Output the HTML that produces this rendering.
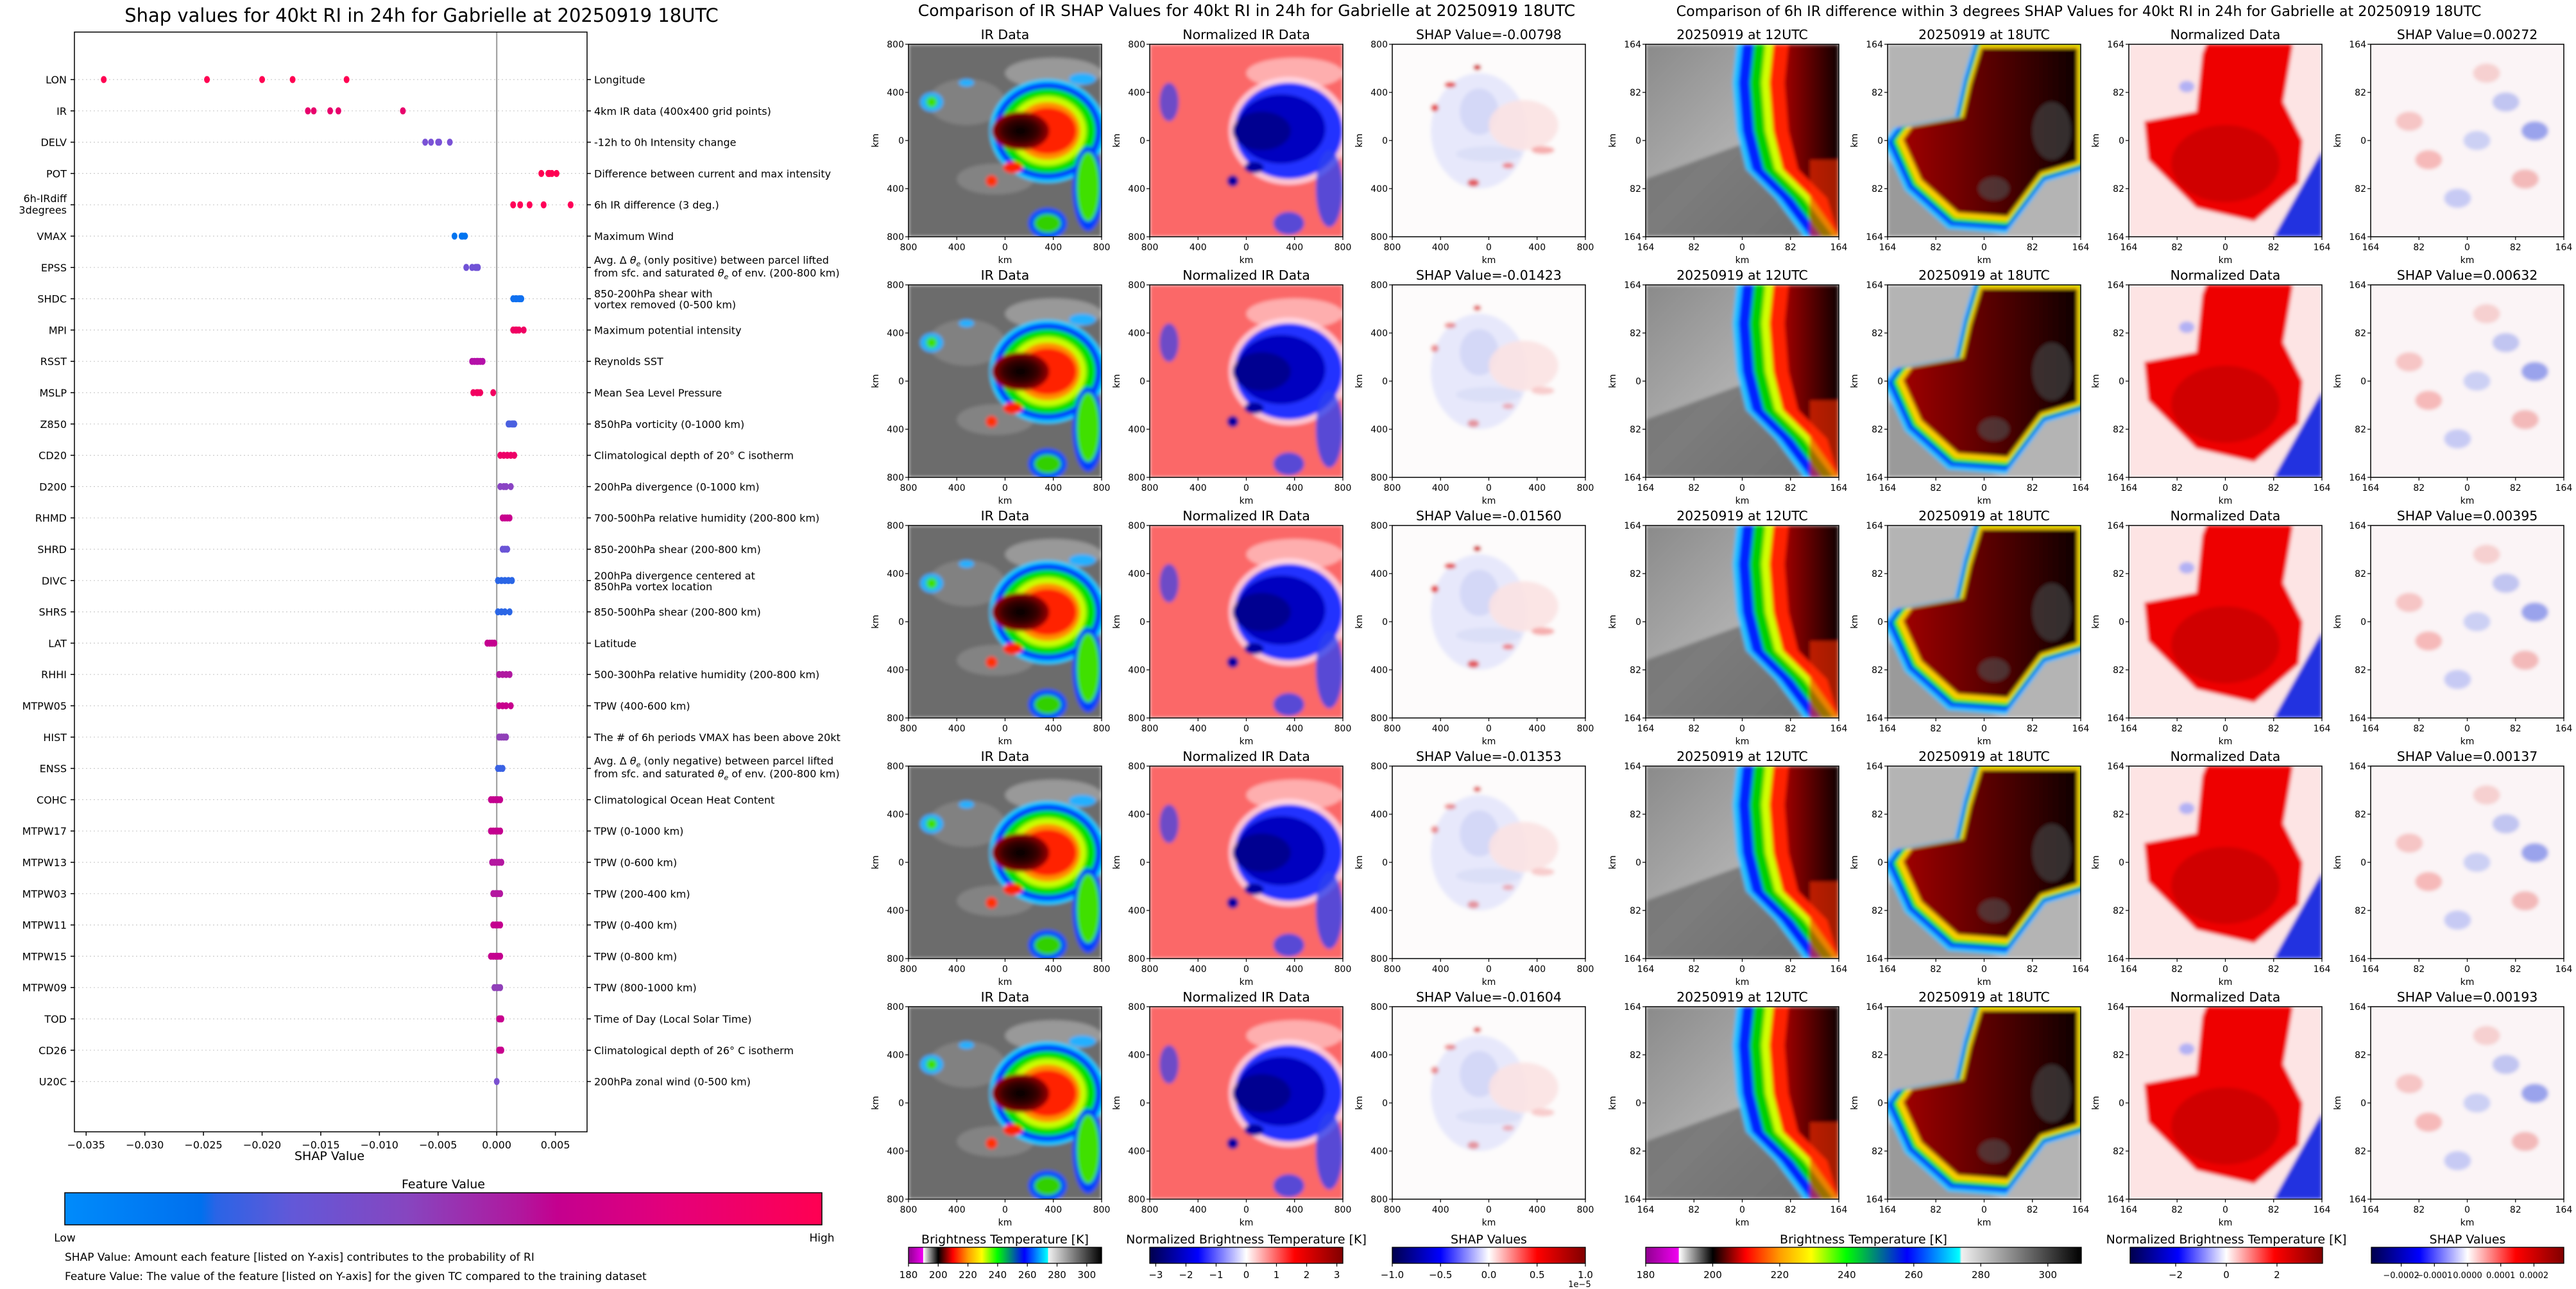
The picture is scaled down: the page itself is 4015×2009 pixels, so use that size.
<!DOCTYPE html>
<html><head><meta charset="utf-8">
<style>
html,body{margin:0;padding:0;background:#fff;}
svg{display:block;font-family:"DejaVu Sans","Liberation Sans",sans-serif;}
</style></head>
<body>
<svg id="root" xmlns="http://www.w3.org/2000/svg" width="4015" height="2009" viewBox="0 0 4015 2009">
<defs>
  <linearGradient id="gFeat" x1="0" x2="1" y1="0" y2="0">
    <stop offset="0" stop-color="#008bfb"/><stop offset="0.18" stop-color="#0070ee"/>
    <stop offset="0.2" stop-color="#2a64e6"/><stop offset="0.3" stop-color="#6258d8"/>
    <stop offset="0.45" stop-color="#8646c0"/><stop offset="0.6" stop-color="#b0189e"/>
    <stop offset="0.65" stop-color="#c4008f"/><stop offset="0.8" stop-color="#e4007a"/>
    <stop offset="1" stop-color="#ff0052"/>
  </linearGradient>
  <linearGradient id="gBT" x1="0" x2="1" y1="0" y2="0">
    <stop offset="0" stop-color="#900090"/><stop offset="0.075" stop-color="#f000f0"/>
    <stop offset="0.077" stop-color="#ffffff"/><stop offset="0.154" stop-color="#000000"/>
    <stop offset="0.23" stop-color="#ff0000"/><stop offset="0.31" stop-color="#ffa000"/>
    <stop offset="0.38" stop-color="#ffff00"/><stop offset="0.46" stop-color="#00ff00"/>
    <stop offset="0.6" stop-color="#0000ff"/><stop offset="0.72" stop-color="#00ffff"/>
    <stop offset="0.725" stop-color="#f0f0f0"/><stop offset="1" stop-color="#000000"/>
  </linearGradient>
  <linearGradient id="gSeis" x1="0" x2="1" y1="0" y2="0">
    <stop offset="0" stop-color="#00004c"/><stop offset="0.25" stop-color="#0000ff"/>
    <stop offset="0.5" stop-color="#ffffff"/><stop offset="0.75" stop-color="#ff0000"/>
    <stop offset="1" stop-color="#800000"/>
  </linearGradient>
  <radialGradient id="gCore" cx="0.5" cy="0.5" r="0.5">
    <stop offset="0" stop-color="#000"/><stop offset="0.6" stop-color="#3a0000"/><stop offset="1" stop-color="#a00000"/>
  </radialGradient>
  <linearGradient id="gDark" x1="0" x2="1" y1="0" y2="0">
    <stop offset="0" stop-color="#a00000"/><stop offset="1" stop-color="#100000"/>
  </linearGradient>
  <linearGradient id="gGrayL" x1="0" x2="1" y1="0" y2="1">
    <stop offset="0" stop-color="#8a8a8a"/><stop offset="0.5" stop-color="#b0b0b0"/><stop offset="1" stop-color="#6a6a6a"/>
  </linearGradient>
  <filter id="soft" x="0" y="0" width="1" height="1"><feGaussianBlur stdDeviation="3"/></filter>
</defs>
</svg>
<script>
// ---------- SHAP beeswarm data ----------
const features = ["LON","IR","DELV","POT","6h-IRdiff|3degrees","VMAX","EPSS","SHDC","MPI","RSST","MSLP","Z850","CD20","D200","RHMD","SHRD","DIVC","SHRS","LAT","RHHI","MTPW05","HIST","ENSS","COHC","MTPW17","MTPW13","MTPW03","MTPW11","MTPW15","MTPW09","TOD","CD26","U20C"];
const descriptions = ["Longitude","4km IR data (400x400 grid points)","-12h to 0h Intensity change","Difference between current and max intensity","6h IR difference (3 deg.)","Maximum Wind","EPSS_LABEL","850-200hPa shear with|vortex removed (0-500 km)","Maximum potential intensity","Reynolds SST","Mean Sea Level Pressure","850hPa vorticity (0-1000 km)","Climatological depth of 20° C isotherm","200hPa divergence (0-1000 km)","700-500hPa relative humidity (200-800 km)","850-200hPa shear (200-800 km)","200hPa divergence centered at|850hPa vortex location","850-500hPa shear (200-800 km)","Latitude","500-300hPa relative humidity (200-800 km)","TPW (400-600 km)","The # of 6h periods VMAX has been above 20kt","ENSS_LABEL","Climatological Ocean Heat Content","TPW (0-1000 km)","TPW (0-600 km)","TPW (200-400 km)","TPW (0-400 km)","TPW (0-800 km)","TPW (800-1000 km)","Time of Day (Local Solar Time)","Climatological depth of 26° C isotherm","200hPa zonal wind (0-500 km)"];
const shapValues = [
 [-0.0335,-0.0247,-0.0200,-0.0174,-0.0128],
 [-0.0161,-0.0156,-0.0142,-0.0135,-0.0080],
 [-0.0061,-0.0056,-0.0050,-0.0049,-0.0040],
 [0.0038,0.0044,0.0045,0.0047,0.0051],
 [0.0014,0.0020,0.0028,0.0040,0.0063],
 [-0.0036,-0.0030,-0.0029,-0.0027],
 [-0.0026,-0.0021,-0.0018,-0.0017,-0.0016],
 [0.0014,0.0016,0.0017,0.0019,0.0020,0.0021],
 [0.0014,0.0016,0.0017,0.0019,0.0023],
 [-0.0021,-0.0019,-0.0017,-0.0016,-0.0014,-0.0012],
 [-0.0020,-0.0017,-0.0016,-0.0014,-0.0003],
 [0.0010,0.0011,0.0013,0.0014,0.0015],
 [0.0003,0.0006,0.0009,0.0012,0.0015],
 [0.0003,0.0006,0.0008,0.0012],
 [0.0005,0.0007,0.0009,0.0011],
 [0.0005,0.0007,0.0009],
 [0.0001,0.0004,0.0007,0.0010,0.0013],
 [0.0001,0.0004,0.0007,0.0011],
 [-0.0008,-0.0006,-0.0004,-0.0002],
 [0.0002,0.0005,0.0008,0.0011],
 [0.0002,0.0005,0.0008,0.0012],
 [0.0002,0.0004,0.0006,0.0008],
 [0.0001,0.0003,0.0005],
 [-0.0005,-0.0003,-0.0001,0.0001,0.0003],
 [-0.0005,-0.0003,-0.0001,0.0001,0.0003],
 [-0.0004,-0.0002,0.0000,0.0002,0.0004],
 [-0.0003,-0.0001,0.0001,0.0003],
 [-0.0003,-0.0001,0.0001,0.0003],
 [-0.0005,-0.0003,-0.0001,0.0001,0.0003],
 [-0.0002,0.0000,0.0001,0.0003],
 [0.0002,0.0003,0.0004],
 [0.0002,0.0003,0.0004],
 [0.0000]
];
const featureColors = ["#ff0052","#e8006c","#7a52d6","#ff0052","#ff0058","#0074f0","#7052d6","#1070f0","#f00062","#b410a8","#f20060","#4a60e0","#ee0068","#8a44c4","#c8008e","#6a54d6","#2a66e6","#2a66e6","#c4008f","#b018a0","#c8008e","#9040b8","#3a62e4","#c4008f","#c4008f","#b418a0","#b418a0","#c4008f","#c4008f","#9040b8","#c8008e","#c8008e","#7a50d0"];
const xTicks = [-0.035,-0.030,-0.025,-0.020,-0.015,-0.010,-0.005,0.000,0.005];

// ---------- image panel data ----------
const irShap = ["-0.00798","-0.01423","-0.01560","-0.01353","-0.01604"];
const diffShap = ["0.00272","0.00632","0.00395","0.00137","0.00193"];
const btTicks = [180,200,220,240,260,280,300];
const normTicksMid = [-3,-2,-1,0,1,2,3];
const shapTicksMid = [-1.0,-0.5,0.0,0.5,1.0];
const normTicksRight = [-2,0,2];
const shapTicksRight = [-0.0002,-0.0001,0.0000,0.0001,0.0002];
const kmTicksMid = ["800","400","0","400","800"];
const kmTicksRight = ["164","82","0","82","164"];

const NS="http://www.w3.org/2000/svg";
const root=document.getElementById('root');
function mk(tag,attrs,parent,txt){const e=document.createElementNS(NS,tag);for(const k in attrs)e.setAttribute(k,attrs[k]);if(txt!==undefined)e.textContent=txt;(parent||root).appendChild(e);return e;}

// ================= LEFT: beeswarm =================
const AX={l:116,r:915,t:50,b:1764};
const xMin=-0.0360, xMax=0.0077;
function xs(v){return AX.l+(v-xMin)/(xMax-xMin)*(AX.r-AX.l);}
const rowY0=124, rowStep=48.8;
function ys(i){return rowY0+i*rowStep;}

const left=mk('g',{});


const lt=mk('text',{x:657,y:34,'text-anchor':'middle','font-size':29},left,'Shap values for 40kt RI in 24h for Gabrielle at 20250919 18UTC');



features.forEach((f,i)=>{
  const y=ys(i);
  const gl=mk('line',{x1:AX.l,x2:AX.r,y1:y,y2:y,stroke:'#cccccc','stroke-width':1.2,'stroke-dasharray':'2,4'},left);
  
  
});
const zl=mk('line',{x1:xs(0),x2:xs(0),y1:AX.t,y2:AX.b,stroke:'#999','stroke-width':2},left);



features.forEach((f,i)=>{
  const y=ys(i);
  const g=mk('g',{},left);
  
  
  shapValues[i].forEach(v=>{
    const d=mk('ellipse',{cx:xs(v),cy:y,rx:4.5,ry:5.5,fill:featureColors[i]},g);
    
    
  });
  mk('line',{x1:AX.l-6,x2:AX.l,y1:y,y2:y,stroke:'#000','stroke-width':1.5},g);
  mk('line',{x1:AX.r,x2:AX.r+6,y1:y,y2:y,stroke:'#000','stroke-width':1.5},g);
  const parts=f.split('|');
  if(parts.length===1){
    const t=mk('text',{x:AX.l-12,y:y+6,'text-anchor':'end','font-size':16},g,f);
    
    
  } else {
    const t=mk('text',{x:AX.l-12,y:y-4,'text-anchor':'end','font-size':16},g,parts[0]);
    
    
    const t2=mk('text',{x:AX.l-12,y:y+14,'text-anchor':'end','font-size':16},g,parts[1]);
    
    
  }
  const desc=descriptions[i];
  const rx=AX.r+11;
  if(desc==='EPSS_LABEL'||desc==='ENSS_LABEL'){
    const w=desc==='EPSS_LABEL'?'positive':'negative';
    const t=mk('text',{x:rx,y:y-6,'font-size':16},g);
    t.innerHTML='Avg. Δ <tspan font-style="italic">θ</tspan><tspan font-size="11" dy="4" font-style="italic">e</tspan><tspan dy="-4"> (only '+w+') between parcel lifted</tspan>';
    
    
    const t2=mk('text',{x:rx,y:y+14,'font-size':16},g);
    t2.innerHTML='from sfc. and saturated <tspan font-style="italic">θ</tspan><tspan font-size="11" dy="4" font-style="italic">e</tspan><tspan dy="-4"> of env. (200-800 km)</tspan>';
    
    
  } else {
    const dp=desc.split('|');
    if(dp.length===1){
      const t=mk('text',{x:rx,y:y+6,'font-size':16},g,desc);
      
      
    } else {
      const t=mk('text',{x:rx,y:y-2,'font-size':16},g,dp[0]);
      
      
      const t2=mk('text',{x:rx,y:y+15,'font-size':16},g,dp[1]);
      
      
    }
  }
});
const frame=mk('rect',{x:AX.l,y:AX.t,width:AX.r-AX.l,height:AX.b-AX.t,fill:'none',stroke:'#000','stroke-width':1.5},left);


xTicks.forEach(v=>{
  const x=xs(v);
  mk('line',{x1:x,x2:x,y1:AX.b,y2:AX.b+6,stroke:'#000','stroke-width':1.5},left);
  const t=mk('text',{x:x,y:AX.b+26,'text-anchor':'middle','font-size':16},left,(v<0?'−':'')+Math.abs(v).toFixed(3));
  
  
});
const xt=mk('text',{x:(AX.l+AX.r)/2-2,y:1808,'text-anchor':'middle','font-size':19},left,'SHAP Value');


const fvt=mk('text',{x:691,y:1852,'text-anchor':'middle','font-size':19},left,'Feature Value');


const fcb=mk('rect',{x:101,y:1859,width:1180,height:50,fill:'url(#gFeat)',stroke:'#000','stroke-width':1.5},left);


const lo=mk('text',{x:101,y:1935,'text-anchor':'middle','font-size':17},left,'Low');


const hi=mk('text',{x:1281,y:1935,'text-anchor':'middle','font-size':17},left,'High');


const n1=mk('text',{x:101,y:1965,'font-size':17},left,'SHAP Value: Amount each feature [listed on Y-axis] contributes to the probability of RI');


const n2=mk('text',{x:101,y:1995,'font-size':17},left,'Feature Value: The value of the feature [listed on Y-axis] for the given TC compared to the training dataset');



// ================= image panels =================
const PW=301, PH=300;
const rowsY=[69,444,819,1194,1569];
const midX=[1416,1792,2170];
const rightX=[2565,2942,3318,3695];
let clipN=0;
function pts(a,x,y){return a.map(p=>(x+p[0]*PW).toFixed(1)+','+(y+p[1]*PH).toFixed(1)).join(' ');}
function E(g,x,y,cx,cy,rx,ry,fill,op){mk('ellipse',{cx:x+cx*PW,cy:y+cy*PH,rx:rx*PW,ry:ry*PH,fill:fill,opacity:op===undefined?1:op},g);}

function drawIR(g,x,y){
  mk('rect',{x:x,y:y,width:PW,height:PH,fill:'#6c6c6c'},g);
  E(g,x,y,0.75,0.15,0.25,0.08,'#b8b8b8',0.6);E(g,x,y,0.3,0.3,0.2,0.12,'#909090',0.6);
  E(g,x,y,0.45,0.7,0.2,0.08,'#999',0.5);
  [['#00c8ff',0.3,0.27],['#0030ff',0.28,0.25],['#00e000',0.25,0.22],['#c8ff00',0.2,0.18],['#ff9000',0.17,0.15],['#ff2000',0.15,0.12]].forEach(c=>E(g,x,y,0.72,0.45,c[1],c[2],c[0]));
  E(g,x,y,0.93,0.75,0.08,0.22,'#0040ff');E(g,x,y,0.93,0.74,0.06,0.18,'#40e000');
  E(g,x,y,0.72,0.93,0.1,0.08,'#0050ff');E(g,x,y,0.72,0.93,0.07,0.05,'#30d000');
  E(g,x,y,0.58,0.45,0.15,0.1,'url(#gCore)');
  E(g,x,y,0.54,0.64,0.05,0.03,'#ff2000');E(g,x,y,0.43,0.71,0.03,0.03,'#ff3000');
  E(g,x,y,0.12,0.3,0.06,0.05,'#20b0ff');E(g,x,y,0.12,0.3,0.03,0.03,'#40e000');
  E(g,x,y,0.3,0.2,0.04,0.02,'#20b0ff');E(g,x,y,0.9,0.18,0.07,0.03,'#20b0ff');
}
function drawNorm(g,x,y){
  mk('rect',{x:x,y:y,width:PW,height:PH,fill:'#fb6868'},g);
  E(g,x,y,0.75,0.15,0.25,0.08,'#fcc',0.7);
  E(g,x,y,0.72,0.45,0.31,0.28,'#fde',0.8);
  E(g,x,y,0.72,0.45,0.28,0.25,'#2030ff');
  E(g,x,y,0.68,0.44,0.23,0.18,'#0000c0');
  E(g,x,y,0.58,0.45,0.15,0.1,'#000090');
  E(g,x,y,0.93,0.75,0.07,0.2,'#3040f0',0.8);
  E(g,x,y,0.72,0.93,0.08,0.06,'#3040f0',0.8);
  E(g,x,y,0.54,0.64,0.05,0.03,'#0000a0');E(g,x,y,0.43,0.71,0.03,0.03,'#0000a0');
  E(g,x,y,0.1,0.3,0.05,0.1,'#3040f0',0.7);
}
function drawShapMid(g,x,y,r){
  mk('rect',{x:x,y:y,width:PW,height:PH,fill:'#fdfbfb'},g);
  E(g,x,y,0.45,0.45,0.25,0.3,'#e4e6fb',0.9);
  E(g,x,y,0.45,0.35,0.1,0.12,'#cfd3f6',0.8);
  E(g,x,y,0.68,0.42,0.18,0.13,'#fbe2e2',0.9);
  E(g,x,y,0.5,0.57,0.17,0.04,'#d8dcf6',0.8);
  const a=r===0||r===2?1:0.6;
  E(g,x,y,0.44,0.12,0.02,0.015,'#d00000',a);E(g,x,y,0.3,0.21,0.03,0.015,'#e02020',a*0.8);
  E(g,x,y,0.22,0.33,0.02,0.02,'#e02020',a*0.8);E(g,x,y,0.42,0.72,0.03,0.02,'#e02020',a*0.7);
  E(g,x,y,0.6,0.63,0.03,0.015,'#f04040',a*0.6);E(g,x,y,0.78,0.55,0.06,0.02,'#f06060',a*0.5);
}
function drawT12(g,x,y){
  mk('rect',{x:x,y:y,width:PW,height:PH,fill:'url(#gGrayL)'},g);
  mk('polygon',{points:pts([[0,0.7],[0.55,0.5],[0.8,1],[0,1]],x,y),fill:'#6e6e6e',opacity:0.8},g);
  const edge=[[0.5,0],[0.48,0.2],[0.5,0.45],[0.55,0.65],[0.7,0.8],[0.85,1]];
  [['#20c0ff',-0.03],['#0020ff',0],['#00d000',0.06],['#d0ff00',0.12],['#ff2000',0.16],['url(#gDark)',0.24]].forEach(c=>{
    mk('polygon',{points:pts(edge.map(p=>[Math.min(1,p[0]+c[1]),p[1]]).concat([[1,1],[1,0]]),x,y),fill:c[0]},g);
  });
  mk('rect',{x:x+0.85*PW,y:y+0.6*PH,width:0.15*PW,height:0.4*PH,fill:'#ff3000',opacity:0.6},g);
}
function drawT18(g,x,y){
  mk('rect',{x:x,y:y,width:PW,height:PH,fill:'#b4b4b4'},g);
  mk('polygon',{points:pts([[0,0.6],[0.3,0.9],[0.6,1],[0,1]],x,y),fill:'#9a9a9a'},g);
  const body=[[0.48,0],[0.42,0.2],[0.38,0.38],[0.1,0.43],[0.05,0.5],[0.15,0.72],[0.35,0.9],[0.62,0.92],[0.8,0.68],[1,0.62],[1,0],];
  const cols=[['#20c0ff',1.12],['#0020ff',1.08],['#00e000',1.04],['#ffd000',1.0]];
  cols.forEach(c=>{
    const sc=c[1];
    mk('polygon',{points:pts(body.map(p=>[0.65+(p[0]-0.65)*sc,0.4+(p[1]-0.4)*sc]),x,y),fill:c[0]},g);
  });
  mk('polygon',{points:pts(body.map(p=>[0.65+(p[0]-0.65)*0.95,0.4+(p[1]-0.4)*0.95]),x,y),fill:'url(#gDark)'},g);
  E(g,x,y,0.85,0.45,0.1,0.15,'#404040',0.7);E(g,x,y,0.55,0.75,0.08,0.06,'#505050',0.6);
}
function drawNormR(g,x,y){
  mk('rect',{x:x,y:y,width:PW,height:PH,fill:'#fde4e4'},g);
  mk('polygon',{points:pts([[0.75,1],[1,0.55],[1,1]],x,y),fill:'#2030e0'},g);
  const body=[[0.4,0],[0.85,0],[0.8,0.3],[0.9,0.5],[0.88,0.72],[0.65,0.92],[0.35,0.85],[0.1,0.6],[0.08,0.4],[0.35,0.35],[0.38,0.05]];
  mk('polygon',{points:pts(body,x,y),fill:'#ee0000'},g);
  E(g,x,y,0.5,0.62,0.28,0.2,'#c80000',0.8);
  E(g,x,y,0.3,0.22,0.04,0.03,'#8090ff',0.6);
}
function drawShapR(g,x,y){
  mk('rect',{x:x,y:y,width:PW,height:PH,fill:'#fbf4f6'},g);
  [[0.3,0.6,'#f3a0a0'],[0.7,0.3,'#a8b0f0'],[0.55,0.5,'#b8c0f4'],[0.2,0.4,'#f3b0b0'],[0.8,0.7,'#f0a0a0'],[0.45,0.8,'#b0b8f4'],[0.6,0.15,'#f3c0c0'],[0.85,0.45,'#7080e8']].forEach(b=>E(g,x,y,b[0],b[1],0.07,0.05,b[2],0.7));
}
function axesPanel(x,y,title,ticks,name,drawFn,r){
  const g=mk('g',{});
  
  
  clipN++;
  const cp=mk('clipPath',{id:'cp'+clipN},g);
  mk('rect',{x:x,y:y,width:PW,height:PH},cp);
  const outer=mk('g',{'clip-path':'url(#cp'+clipN+')'},g);
  const img=mk('g',{filter:'url(#soft)'},outer);
  
  
  drawFn(img,x,y,r);
  mk('rect',{x:x,y:y,width:PW,height:PH,fill:'none',stroke:'#000','stroke-width':1.5},g);
  const t=mk('text',{x:x+PW/2,y:y-8,'text-anchor':'middle','font-size':20.5},g,title);
  
  
  ticks.forEach((lab,i)=>{
    const f=i/(ticks.length-1);
    mk('line',{x1:x-5,x2:x,y1:y+f*PH,y2:y+f*PH,stroke:'#000','stroke-width':1.2},g);
    const ty=mk('text',{x:x-7,y:y+f*PH+5,'text-anchor':'end','font-size':14},g,lab);
    
    
    mk('line',{x1:x+f*PW,x2:x+f*PW,y1:y+PH,y2:y+PH+5,stroke:'#000','stroke-width':1.2},g);
    const tx=mk('text',{x:x+f*PW,y:y+PH+21,'text-anchor':'middle','font-size':14},g,lab);
    
    
  });
  const kx=mk('text',{x:x+PW/2,y:y+PH+41,'text-anchor':'middle','font-size':14},g,'km');
  
  
  const ky=mk('text',{x:0,y:0,'text-anchor':'middle','font-size':14,transform:'translate('+(x-(ticks[0].length>2?47:43))+','+(y+PH/2)+') rotate(-90)'},g,'km');
  
  
}

const mt=mk('text',{x:1943,y:25,'text-anchor':'middle','font-size':25},root,'Comparison of IR SHAP Values for 40kt RI in 24h for Gabrielle at 20250919 18UTC');


const rt=mk('text',{x:3240,y:25,'text-anchor':'middle','font-size':22.2},root,'Comparison of 6h IR difference within 3 degrees SHAP Values for 40kt RI in 24h for Gabrielle at 20250919 18UTC');



rowsY.forEach((y,r)=>{
  axesPanel(midX[0],y,'IR Data',kmTicksMid,'ir-data-panel',drawIR,r);
  axesPanel(midX[1],y,'Normalized IR Data',kmTicksMid,'normalized-ir-panel',drawNorm,r);
  axesPanel(midX[2],y,'SHAP Value='+irShap[r],kmTicksMid,'ir-shap-panel',drawShapMid,r);
  axesPanel(rightX[0],y,'20250919 at 12UTC',kmTicksRight,'ir-12utc-panel',drawT12,r);
  axesPanel(rightX[1],y,'20250919 at 18UTC',kmTicksRight,'ir-18utc-panel',drawT18,r);
  axesPanel(rightX[2],y,'Normalized Data',kmTicksRight,'normalized-diff-panel',drawNormR,r);
  axesPanel(rightX[3],y,'SHAP Value='+diffShap[r],kmTicksRight,'diff-shap-panel',drawShapR,r);
});

// ---------- colorbars ----------
function colorbar(x,w,title,fill,ticks,vmin,vmax,fmt,name,fs){
  const g=mk('g',{});
  
  
  const t=mk('text',{x:x+w/2,y:1938,'text-anchor':'middle','font-size':19},g,title);
  
  
  mk('rect',{x:x,y:1944,width:w,height:25,fill:fill,stroke:'#000','stroke-width':1.3},g);
  ticks.forEach(v=>{
    const tx=x+(v-vmin)/(vmax-vmin)*w;
    mk('line',{x1:tx,x2:tx,y1:1969,y2:1974,stroke:'#000','stroke-width':1.2},g);
    const l=mk('text',{x:tx,y:1992,'text-anchor':'middle','font-size':fs||15},g,fmt(v));
    
    
  });
}
const neg=s=>s.replace('-','−');
colorbar(midX[0],PW,'Brightness Temperature [K]','url(#gBT)',btTicks,180,310,v=>String(v),'bt-colorbar-mid');
colorbar(midX[1],PW,'Normalized Brightness Temperature [K]','url(#gSeis)',normTicksMid,-3.2,3.2,v=>neg(String(v)),'norm-colorbar-mid');
colorbar(midX[2],PW,'SHAP Values','url(#gSeis)',shapTicksMid,-1,1,v=>neg(v.toFixed(1)),'shap-colorbar-mid');
const ex=mk('text',{x:2462,y:2006,'text-anchor':'middle','font-size':13},root,'1e−5');


colorbar(2565,679,'Brightness Temperature [K]','url(#gBT)',btTicks,180,310,v=>String(v),'bt-colorbar-right');
colorbar(3320,300,'Normalized Brightness Temperature [K]','url(#gSeis)',normTicksRight,-3.8,3.8,v=>neg(String(v)),'norm-colorbar-right');
colorbar(3696,300,'SHAP Values','url(#gSeis)',shapTicksRight,-0.00029,0.00029,v=>neg(v.toFixed(4)),'shap-colorbar-right',13);
</script>
</body></html>
